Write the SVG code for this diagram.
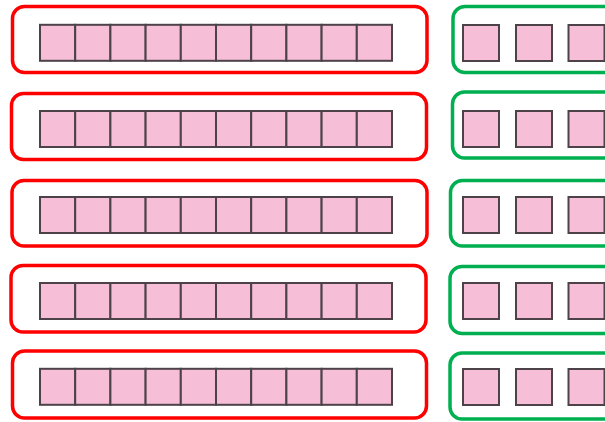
<svg xmlns="http://www.w3.org/2000/svg" width="605" height="422" viewBox="0 0 605 422">
<style>
.red{fill:none;stroke:#FF0000;stroke-width:3.5}
.grn{fill:none;stroke:#00B050;stroke-width:3.5}
.sq{fill:#F6BFD7;stroke:#4D4248;stroke-width:2}
</style>
<defs>
<g id="strip">
<rect class="sq" x="40" y="0" width="35.2" height="36"/>
<rect class="sq" x="75.2" y="0" width="35.2" height="36"/>
<rect class="sq" x="110.4" y="0" width="35.2" height="36"/>
<rect class="sq" x="145.6" y="0" width="35.2" height="36"/>
<rect class="sq" x="180.8" y="0" width="35.2" height="36"/>
<rect class="sq" x="216" y="0" width="35.2" height="36"/>
<rect class="sq" x="251.2" y="0" width="35.2" height="36"/>
<rect class="sq" x="286.4" y="0" width="35.2" height="36"/>
<rect class="sq" x="321.6" y="0" width="35.2" height="36"/>
<rect class="sq" x="356.8" y="0" width="35.2" height="36"/>
</g>
<g id="ones">
<rect class="sq" x="463" y="0" width="36" height="36"/>
<rect class="sq" x="516" y="0" width="36" height="36"/>
<rect class="sq" x="568.5" y="0" width="36" height="36"/>
</g>
</defs>
<g id="tens1"><rect class="red" x="12.5" y="6.5" width="414.5" height="66" rx="12"/><use href="#strip" y="24.8"/></g>
<g id="ones1"><rect class="grn" x="453" y="6.5" width="170" height="66" rx="12"/><use href="#ones" y="25"/></g>
<g id="tens2"><rect class="red" x="11.5" y="93.5" width="415" height="66" rx="12"/><use href="#strip" y="111"/></g>
<g id="ones2"><rect class="grn" x="452.5" y="92" width="170" height="66" rx="12"/><use href="#ones" y="111"/></g>
<g id="tens3"><rect class="red" x="12" y="180.5" width="415" height="65.5" rx="12"/><use href="#strip" y="197"/></g>
<g id="ones3"><rect class="grn" x="450.5" y="180.5" width="170" height="65.5" rx="12"/><use href="#ones" y="197"/></g>
<g id="tens4"><rect class="red" x="11" y="265.5" width="415" height="66.5" rx="12"/><use href="#strip" y="283"/></g>
<g id="ones4"><rect class="grn" x="450" y="266.5" width="170" height="67" rx="12"/><use href="#ones" y="283"/></g>
<g id="tens5"><rect class="red" x="12.5" y="351" width="414" height="67" rx="12"/><use href="#strip" y="368.8"/></g>
<g id="ones5"><rect class="grn" x="450" y="353" width="170" height="66" rx="12"/><use href="#ones" y="369"/></g>
<g id="connectors"/>
</svg>
